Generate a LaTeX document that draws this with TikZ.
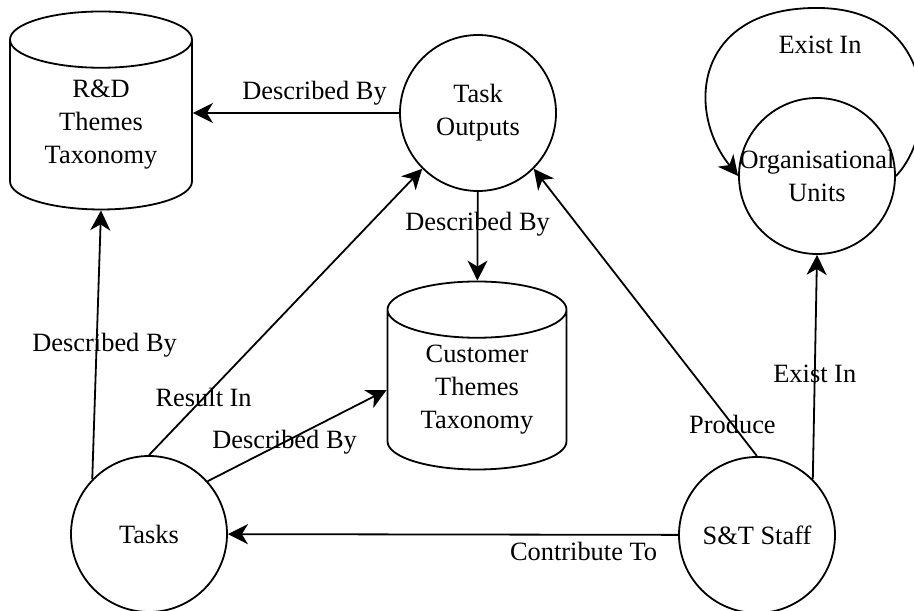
\documentclass[tikz,border=0pt]{standalone}
\usepackage{fontspec}
\setmainfont{Liberation Serif}
\usetikzlibrary{shapes.geometric,arrows.meta}

\begin{document}
\begin{tikzpicture}[x=0.5pt, y=-0.5pt, line width=0.9pt, font=\fontsize{13.2}{16.5}\selectfont]
    \tikzset{common size/.style={minimum size=78pt, inner sep=0pt, align=center}}
    \tikzset{store/.style={draw, cylinder, shape border rotate=90, aspect=0.5, inner sep=0pt, align=center}}
    \tikzset{link/.style={->, >={Stealth[length=10pt, width=10pt, inset=3pt]}}}
    \useasboundingbox (0,0) rectangle (914,610);
    \node[store, minimum width=91pt, minimum height=99pt] (rd) at (101,125) {R\&D\\Themes\\Taxonomy};
    \node[store, minimum width=89.5pt, minimum height=94pt] (custs) at (477,390) {Customer\\Themes\\Taxonomy};
    \node[draw, circle, common size] (outputs) at (478,113) {Task\\Outputs};
    \node[draw, circle, common size] (units) at (817,176) {\makebox[0pt]{Organisational}\\Units};
    \node[draw, circle, common size] (tasks) at (149,534) {Tasks};
    \node[draw, circle, common size] (staff) at (757,535) {S\&T Staff};
    \draw[link] (outputs.west) -- (outputs.west -| rd.east) node[pos=0.41, above] {Described By};
    \draw[link] (outputs) -- (custs) node[pos=0.36] {Described By};
    \draw[link] (tasks.136) -- (rd.south) node[midway, xshift=4pt] {Described By};
    \draw[link] (tasks.north) -- (outputs.225) node[pos=0.2] {Result In};
    \draw[link] (tasks.42) -- (custs.west) node[pos=0.43] {Described By};
    \draw[link] (staff) -- (tasks) node[pos=0.21, below] {Contribute To};
    \draw[link] (staff.north) -- (outputs.315) node[pos=0.11] {Produce};
    \draw[link] (staff.45) -- (units.south) node[pos=0.47] {Exist In};
    \draw[link] (units.east) .. controls (940,130) and (935,10) .. (820,8) node[below=10pt] {Exist In}
        .. controls (695,6) and (685,110) .. (units.west);
\end{tikzpicture}
\end{document}
